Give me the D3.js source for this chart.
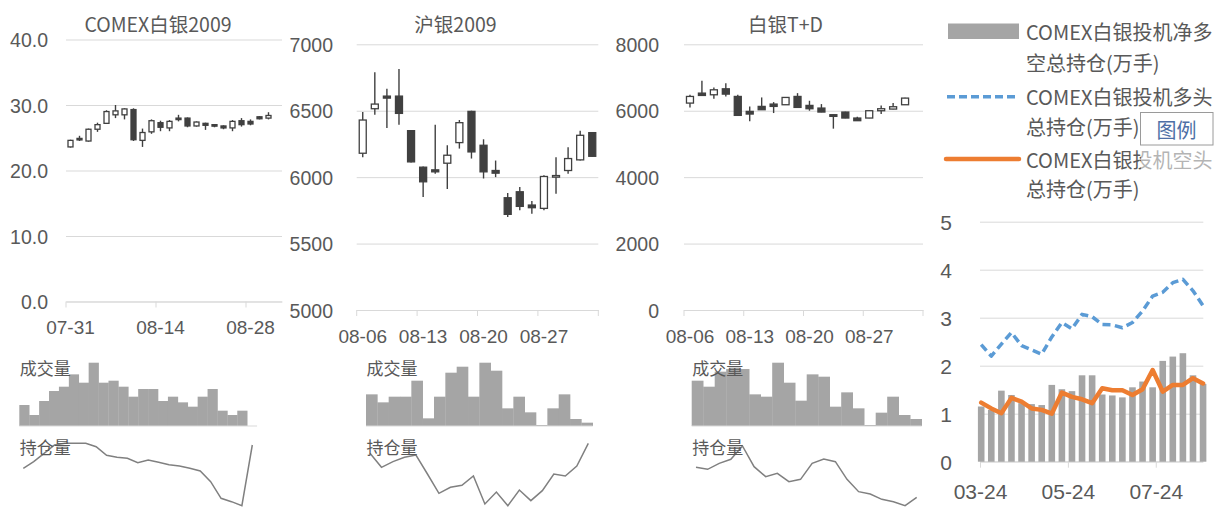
<!DOCTYPE html>
<html><head><meta charset="utf-8">
<script src="https://cdn.jsdelivr.net/npm/d3@7"></script>
<style>
body{margin:0;background:#fff;}
svg{display:block;font-family:"Noto Sans CJK SC","Noto Sans",sans-serif;}
</style></head><body>
<svg id="c" width="1226" height="509"></svg>
<script>
// ---------------- DATA ----------------
const comexDates = ["07-31","08-03","08-04","08-05","08-06","08-07","08-10","08-11","08-12","08-13","08-14","08-17","08-18","08-19","08-20","08-21","08-24","08-25","08-26","08-27","08-28","08-31","09-01","09-02"];
const comexTickLabels = ["07-31","08-14","08-28"];
const comexYTicks = [0,10,20,30,40];
// [open, high, low, close]
const comexOHLC = [
 [23.6,24.7,23.5,24.6],[24.9,25.3,24.5,24.7],[24.5,26.4,24.4,26.3],[26.3,27.3,25.9,27.0],
 [27.2,29.2,27.1,29.0],[28.5,30.0,28.0,29.1],[28.5,29.5,27.8,29.4],[29.3,29.5,24.5,24.7],
 [24.6,26.4,23.6,25.8],[25.9,27.8,25.6,27.6],[27.3,27.6,26.0,26.6],[26.5,27.7,26.0,27.5],
 [28.0,28.5,27.5,27.8],[28.0,28.1,26.6,26.8],[26.8,27.5,26.7,27.4],[27.2,27.3,26.2,26.9],
 [27.0,27.1,26.6,26.8],[26.8,26.9,26.3,26.5],[26.5,27.7,26.0,27.5],[27.6,28.0,26.7,27.0],
 [27.5,27.8,26.9,27.1],[28.2,28.3,27.8,27.9],[28.0,28.9,27.8,28.4]];
const comexVolume = [63,33,75,105,118,155,130,190,130,136,118,88,111,111,75,88,71,58,88,111,46,33,46];
const comexOI = [115,135,160,185,190,190,190,180,154,148,145,132,140,133,126,122,115,107,75,25,15,3,185];

const sgeDates = ["08-06","08-07","08-10","08-11","08-12","08-13","08-14","08-17","08-18","08-19","08-20","08-21","08-24","08-25","08-26","08-27","08-28","08-31","09-01","09-02"];
const sgeTickLabels = ["08-06","08-13","08-20","08-27"];
const shYTicks = [5000,5500,6000,6500,7000];
const shOHLC = [
 [6180,6490,6150,6430],[6515,6790,6470,6550],[6610,6665,6370,6595],[6610,6815,6395,6480],
 [6350,6355,6110,6115],[6075,6080,5850,5965],[6055,6395,6025,6040],[6105,6240,5910,6165],
 [6260,6430,6215,6410],[6495,6500,6140,6190],[6240,6285,5990,6040],[6050,6125,6000,6030],
 [5845,5880,5700,5720],[5890,5925,5750,5780],[5790,5820,5725,5770],[5765,6015,5750,6005],
 [6000,6150,5875,6012],[6050,6225,6025,6140],[6130,6350,6125,6315],[6335,6340,6155,6157]];
const shVolume = [95,71,88,88,136,23,88,160,178,88,190,166,53,88,41,3,53,95,21,10];
const shOI = [160,118,135,148,155,98,40,58,64,92,8,44,3,50,18,48,98,92,122,190];

const tdYTicks = [0,2000,4000,6000,8000];
const tdOHLC = [
 [6230,6480,6100,6430],[6530,6900,6455,6460],[6480,6700,6360,6630],[6660,6830,6430,6500],
 [6430,6480,5855,5860],[5980,6130,5680,5900],[6130,6400,6025,6030],[6200,6260,5930,6130],
 [6180,6410,6175,6400],[6430,6530,6095,6100],[6160,6300,6000,6060],[6080,6200,5955,5960],
 [5880,5885,5460,5830],[5960,5970,5775,5780],[5780,5820,5695,5700],[5780,6005,5775,6000],
 [6000,6160,5900,6060],[6050,6230,6045,6120],[6180,6390,6175,6380]];
const tdVolume = [136,118,163,171,171,95,88,190,130,76,155,148,58,101,53,3,40,88,33,21];
const tdOI = [118,112,130,142,182,120,90,100,75,82,130,143,135,82,45,38,22,15,3,28];

const cotDates = ["2020-03-24","2020-03-31","2020-04-07","2020-04-14","2020-04-21","2020-04-28","2020-05-05","2020-05-12","2020-05-19","2020-05-26","2020-06-02","2020-06-09","2020-06-16","2020-06-23","2020-06-30","2020-07-07","2020-07-14","2020-07-21","2020-07-28","2020-08-04","2020-08-11","2020-08-18","2020-08-25"];
const cotNet   = [1.15,1.08,1.48,1.39,1.22,1.20,1.18,1.60,1.51,1.47,1.80,1.80,1.40,1.38,1.34,1.55,1.67,1.55,2.10,2.19,2.26,1.80,1.62];
const cotLong  = [2.44,2.20,2.45,2.69,2.42,2.33,2.24,2.60,2.90,2.77,3.07,3.02,2.86,2.85,2.79,2.90,3.14,3.45,3.53,3.73,3.80,3.56,3.25];
const cotShort = [1.23,1.11,1.01,1.33,1.25,1.11,1.08,1.00,1.44,1.35,1.30,1.22,1.53,1.49,1.49,1.39,1.51,1.91,1.46,1.60,1.60,1.74,1.63];
const cotTickLabels = ["2020-03-24","2020-05-24","2020-07-24"];
const cotYTicks = [0,1,2,3,4,5];
const legendNames = [["COMEX白银投机净多","空总持仓(万手)"],["COMEX白银投机多头","总持仓(万手)"],["COMEX白银投机空头","总持仓(万手)"]];

// ---------------- STYLE ----------------
const TXT = "#595959", GRID = "#d9d9d9", CANDLE = "#404040", BAR = "#a5a5a5", OIC = "#808080";
const svg = d3.select("#c");

function candlePanel(cfg) {
  const g = svg.append("g");
  const x = d3.scaleBand().domain(cfg.dates).range(cfg.xr).padding(0);
  const y = d3.scaleLinear().domain(cfg.yd).range(cfg.yr);
  const grid = g.append("g").attr("transform", `translate(${cfg.xr[0]},0)`)
    .call(d3.axisLeft(y).tickValues(cfg.yTicks).tickSize(-(cfg.xr[1]-cfg.xr[0])).tickFormat(""));
  grid.select(".domain").remove();
  grid.selectAll("line").attr("stroke", GRID).attr("stroke-width", 1);
  const ya = g.append("g").attr("transform", `translate(${cfg.labelRight},0)`)
    .call(d3.axisLeft(y).tickValues(cfg.yTicks).tickSize(0).tickPadding(0).tickFormat(cfg.fmt));
  ya.select(".domain").remove();
  ya.selectAll("text").attr("dy", null).attr("dominant-baseline", "central")
    .attr("fill", TXT).style("font-size", cfg.fs + "px").style("font-family", null);
  const y0 = y(cfg.yd[0]);
  const xa = g.append("g").attr("transform", `translate(0,${y0})`)
    .call(d3.axisBottom(x).tickValues(cfg.labels).tickSize(0).tickPadding(0));
  xa.select(".domain").attr("stroke", GRID);
  xa.selectAll("text").attr("y", 26).attr("dy", null).attr("dominant-baseline", "central")
    .attr("fill", TXT).style("font-size", "19px").style("font-family", null);
  const tpos = cfg.labels.map(l => x(l));
  if (cfg.endTick) tpos.push(cfg.xr[1]);
  g.selectAll("line.tk").data(tpos).join("line")
    .attr("x1", d => d).attr("x2", d => d).attr("y1", y0).attr("y2", y0 + 6).attr("stroke", GRID);
  g.append("text").attr("x", cfg.titleX).attr("y", 23).attr("text-anchor", "middle")
    .attr("dominant-baseline", "central").attr("fill", TXT).style("font-size", "19.5px").text(cfg.title);
  const bw = cfg.bodyW;
  const cg = g.selectAll("g.candle").data(cfg.ohlc).join("g");
  cg.append("line")
    .attr("x1", (d, i) => x(cfg.dates[i]) + x.bandwidth() / 2)
    .attr("x2", (d, i) => x(cfg.dates[i]) + x.bandwidth() / 2)
    .attr("y1", d => y(d[1])).attr("y2", d => y(d[2]))
    .attr("stroke", CANDLE).attr("stroke-width", 1.4);
  cg.append("rect")
    .attr("x", (d, i) => x(cfg.dates[i]) + x.bandwidth() / 2 - bw / 2)
    .attr("width", bw)
    .attr("y", d => y(Math.max(d[0], d[3])))
    .attr("height", d => Math.max(1.5, Math.abs(y(d[0]) - y(d[3]))))
    .attr("fill", d => d[3] >= d[0] ? "#fff" : CANDLE)
    .attr("stroke", CANDLE).attr("stroke-width", 1.3);

  const xv = d3.scaleBand().domain(cfg.dates).range(cfg.vr).padding(0);
  const yv = d3.scaleLinear().domain([0, 190]).range([426, 362.7]);
  g.selectAll("rect.vol").data(cfg.vol).join("rect")
    .attr("x", (d, i) => xv(cfg.dates[i])).attr("width", xv.bandwidth() + 0.3)
    .attr("y", d => yv(d)).attr("height", d => yv(0) - yv(d)).attr("fill", BAR);
  g.append("line").attr("x1", cfg.vr[0]).attr("x2", cfg.vr[1]).attr("y1", 426).attr("y2", 426)
    .attr("stroke", GRID);
  g.append("text").attr("x", cfg.vr[0] + 0.5).attr("y", 367).attr("dominant-baseline", "central")
    .attr("fill", TXT).style("font-size", "17px").text("成交量");
  const xo = d3.scalePoint().domain(d3.range(cfg.oi.length)).range(cfg.or);
  const yo = d3.scaleLinear().domain([0, 200]).range([506.67, 440]);
  g.append("path").datum(cfg.oi)
    .attr("d", d3.line().x((d, i) => xo(i)).y(d => yo(d)))
    .attr("fill", "none").attr("stroke", OIC).attr("stroke-width", 1.5);
  g.append("text").attr("x", cfg.vr[0] + 0.5).attr("y", 446.5).attr("dominant-baseline", "central")
    .attr("fill", TXT).style("font-size", "17px").text("持仓量");
}

candlePanel({dates: comexDates, labels: comexTickLabels, ohlc: comexOHLC, yd: [0, 40], yr: [301.5, 39.5],
  xr: [66, 282], yTicks: comexYTicks, fmt: d3.format(".1f"), labelRight: 48, fs: 19.5, endTick: false,
  title: "COMEX白银2009", titleX: 158, bodyW: 5, vol: comexVolume, vr: [19.3, 257.1], oi: comexOI, or: [23.3, 252.3]});
candlePanel({dates: sgeDates, labels: sgeTickLabels, ohlc: shOHLC, yd: [5000, 7000], yr: [310, 44.3],
  xr: [356.7, 598.3], yTicks: shYTicks, fmt: d3.format("d"), labelRight: 333, fs: 19.5, endTick: true,
  title: "沪银2009", titleX: 455.5, bodyW: 7, vol: shVolume, vr: [366, 592.7], oi: shOI, or: [370, 588.3]});
candlePanel({dates: sgeDates, labels: sgeTickLabels, ohlc: tdOHLC, yd: [0, 8000], yr: [310, 44.3],
  xr: [684, 923], yTicks: tdYTicks, fmt: d3.format("d"), labelRight: 659, fs: 19.5, endTick: true,
  title: "白银T+D", titleX: 785.5, bodyW: 7, vol: tdVolume, vr: [691.7, 921.7], oi: tdOI, or: [696, 916.7]});

// ---------------- COT PANEL ----------------
(function () {
  const g = svg.append("g");
  const parse = d3.timeParse("%Y-%m-%d");
  const dates = cotDates.map(parse);
  const x = d3.scaleTime().domain([parse("2020-03-24"), parse("2020-08-26")]).range([980, 1203.3]);
  const y = d3.scaleLinear().domain([0, 5]).range([461.7, 221.7]);
  const cx = i => x(dates[i]) + 1.2;
  const grid = g.append("g").attr("transform", "translate(980,0)")
    .call(d3.axisLeft(y).tickValues(cotYTicks).tickSize(-223.3).tickFormat(""));
  grid.select(".domain").remove();
  grid.selectAll("line").attr("stroke", GRID);
  const ya = g.append("g").attr("transform", "translate(952,0)")
    .call(d3.axisLeft(y).tickValues(cotYTicks).tickSize(0).tickPadding(0).tickFormat(d3.format("d")));
  ya.select(".domain").remove();
  ya.selectAll("text").attr("dy", null).attr("dominant-baseline", "central").attr("fill", TXT)
    .style("font-size", "21px").style("font-family", null);
  const xa = g.append("g").attr("transform", "translate(0,461.7)")
    .call(d3.axisBottom(x).tickValues(cotTickLabels.map(parse)).tickSize(6).tickPadding(0)
      .tickFormat(d3.timeFormat("%m-%d")));
  xa.select(".domain").attr("stroke", GRID).attr("d", "M980,0H1203.3");
  xa.selectAll("line").attr("stroke", GRID);
  xa.selectAll("text").attr("y", 30).attr("dy", null).attr("dominant-baseline", "central")
    .attr("fill", TXT).style("font-size", "21px").style("font-family", null);
  g.selectAll("rect.net").data(cotNet).join("rect")
    .attr("x", (d, i) => cx(i) - 3.3).attr("width", 6.6)
    .attr("y", d => y(d)).attr("height", d => y(0) - y(d)).attr("fill", BAR);
  g.append("path").datum(cotLong)
    .attr("d", d3.line().x((d, i) => cx(i)).y(d => y(d)))
    .attr("fill", "none").attr("stroke", "#5b9bd5").attr("stroke-width", 3.5)
    .attr("stroke-dasharray", "8,4.5").attr("stroke-linejoin", "round");
  g.append("path").datum(cotShort)
    .attr("d", d3.line().x((d, i) => cx(i)).y(d => y(d)))
    .attr("fill", "none").attr("stroke", "#ed7d31").attr("stroke-width", 4.5)
    .attr("stroke-linejoin", "round").attr("stroke-linecap", "round");

  const lg = svg.append("g");
  lg.append("rect").attr("x", 948).attr("y", 23.5).attr("width", 71).attr("height", 15.5).attr("fill", BAR);
  lg.append("line").attr("x1", 947).attr("x2", 1019).attr("y1", 96.7).attr("y2", 96.7)
    .attr("stroke", "#5b9bd5").attr("stroke-width", 3.5).attr("stroke-dasharray", "8,4");
  lg.append("line").attr("x1", 946).attr("x2", 1019).attr("y1", 159).attr("y2", 159)
    .attr("stroke", "#ed7d31").attr("stroke-width", 4.5).attr("stroke-linecap", "round");
  const ly = [[31, 62], [96, 126], [159, 188]];
  legendNames.forEach((pair, k) => {
    pair.forEach((t, j) => {
      lg.append("text").attr("x", 1026).attr("y", ly[k][j]).attr("dominant-baseline", "central")
        .attr("fill", TXT).style("font-size", "20px").text(t);
    });
  });
  lg.append("rect").attr("x", 1141).attr("y", 146).attr("width", 85).attr("height", 24)
    .attr("fill", "#fff").attr("opacity", 0.55);
  lg.append("rect").attr("x", 1140.5).attr("y", 112.5).attr("width", 72.5).attr("height", 32.5)
    .attr("fill", "#fff").attr("stroke", "#9a9a9a");
  lg.append("text").attr("x", 1176.5).attr("y", 129.5).attr("text-anchor", "middle")
    .attr("dominant-baseline", "central").attr("fill", "#4e6fa6").style("font-size", "20px").text("图例");
})();
</script>
</body></html>
